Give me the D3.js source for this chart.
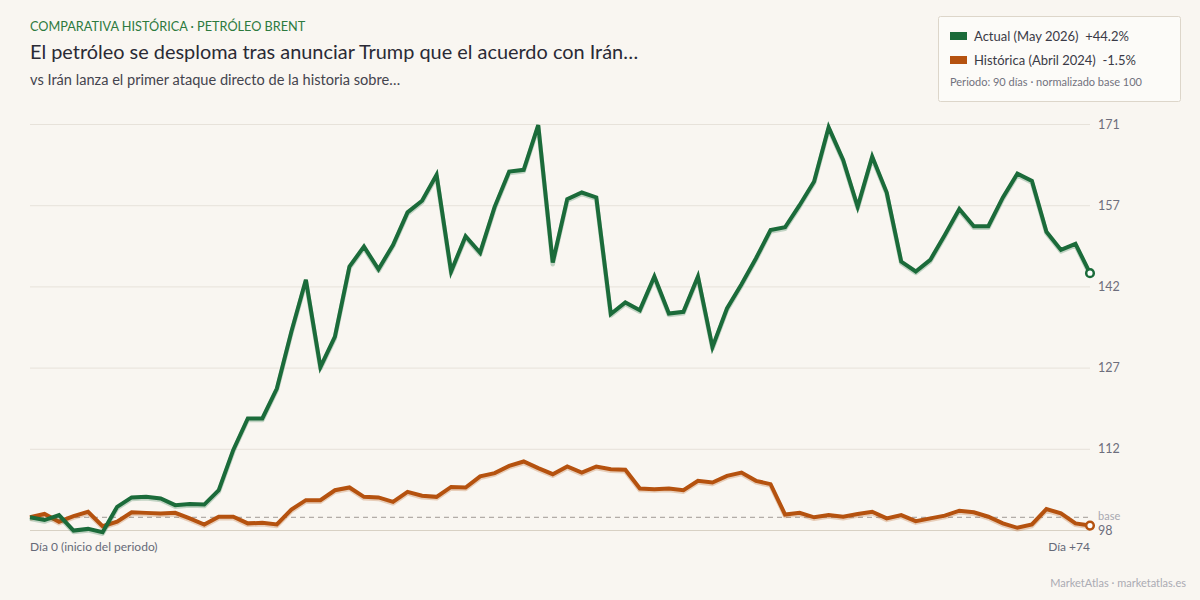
<!DOCTYPE html>
<html>
<head>
<meta charset="utf-8">
<script src="https://cdn.jsdelivr.net/npm/d3@7"></script>
<style>
  html, body { margin: 0; padding: 0; background: #f9f6f1; }
  svg { display: block; font-family: Lato, "Open Sans", sans-serif; }
</style>
</head>
<body>
<div id="chart"></div>
<script>
// brent comparison — current run vs historical, base 100

const days = d3.range(0, 74);

const actualValues = [
  100.0, 99.5, 100.4, 97.6, 97.9, 97.3, 101.9, 103.6, 103.7, 103.4,
  102.2, 102.4, 102.3, 104.9, 112.2, 117.9, 117.9, 123.3, 133.6, 143.0,
  127.2, 132.7, 145.4, 149.0, 144.9, 149.3, 155.2, 157.3, 162.0, 144.5,
  150.9, 147.9, 156.2, 162.6, 162.9, 171.0, 146.1, 157.6, 158.8, 157.9,
  136.8, 138.9, 137.5, 143.6, 136.9, 137.2, 143.6, 130.8, 137.8, 142.2,
  146.9, 152.0, 152.5, 156.5, 160.8, 170.6, 164.7, 156.2, 165.3, 158.8,
  146.3, 144.5, 146.6, 151.1, 155.8, 152.7, 152.7, 157.9, 162.2, 160.9,
  151.7, 148.4, 149.5, 144.2
];

const historicValues = [
  100.0, 100.6, 99.2, 100.2, 101.0, 98.4, 99.2, 100.9, 100.8, 100.7,
  100.8, 99.8, 98.7, 100.1, 100.1, 98.9, 99.0, 98.7, 101.4, 103.1,
  103.1, 104.9, 105.4, 103.7, 103.6, 102.8, 104.6, 103.9, 103.7, 105.5,
  105.4, 107.4, 108.0, 109.3, 110.1, 108.9, 107.8, 109.2, 108.1, 109.2,
  108.7, 108.6, 105.2, 105.1, 105.2, 104.9, 106.6, 106.3, 107.5, 108.1,
  106.6, 106.0, 100.5, 100.8, 100.0, 100.4, 100.1, 100.6, 101.0, 99.8,
  100.4, 99.3, 99.8, 100.3, 101.2, 100.9, 100.1, 98.9, 98.1, 98.7,
  101.5, 100.7, 98.9, 98.5
];

const seriesNames = ["Actual (May 2026)", "Histórica (Abril 2024)"];
const seriesChanges = ["+44.2%", "-1.5%"];
const seriesColors = ["#1b6b3a", "#b5520f"];

const yMin = 97.7, yMax = 171.2;
const baseValue = 100;

const W = 1200, H = 600;
const plot = { left: 30, right: 1090, top: 124, bottom: 530 };

const svg = d3.select("#chart").append("svg")
  .attr("width", W)
  .attr("height", H);

svg.append("rect").attr("width", W).attr("height", H).attr("fill", "#f9f6f1");

const x = d3.scaleLinear()
  .domain([0, days.length - 1])
  .range([plot.left, plot.right]);

const y = d3.scaleLinear()
  .domain([yMin, yMax])
  .range([plot.bottom, plot.top]);

// ===== HEADER =====
svg.append("text")
  .attr("x", 30).attr("y", 31)
  .style("font-size", "12.7px")
  .style("fill", "#2d7a3e")
  .text("COMPARATIVA HISTÓRICA · PETRÓLEO BRENT");

svg.append("text")
  .attr("x", 30).attr("y", 59)
  .style("font-size", "19.9px")
  .style("fill", "#2a2a35")
  .text("El petróleo se desploma tras anunciar Trump que el acuerdo con Irán…");

svg.append("text")
  .attr("x", 30).attr("y", 85)
  .style("font-size", "14.6px")
  .style("fill", "#44444e")
  .text("vs Irán lanza el primer ataque directo de la historia sobre…");

// ===== GRID + Y AXIS =====
const tickVals = d3.range(6).map(i => yMin + (yMax - yMin) * i / 5);

const yAxis = svg.append("g")
  .attr("transform", `translate(${plot.right},0)`)
  .call(d3.axisRight(y)
    .tickValues(tickVals)
    .tickSize(-(plot.right - plot.left))
    .tickPadding(8)
    .tickFormat(d => Math.round(d)));

yAxis.select(".domain").remove();
yAxis.selectAll(".tick line")
  .attr("stroke", (d, i) => i === 0 ? "#d8d1c4" : "#e7e2da")
  .attr("stroke-width", 1);
yAxis.selectAll(".tick text")
  .style("font-size", "12.5px")
  .style("font-family", "Lato, sans-serif")
  .attr("fill", "#6e6e7c");

// base 100 dashed line
svg.append("line")
  .attr("x1", plot.left).attr("x2", plot.right)
  .attr("y1", y(baseValue)).attr("y2", y(baseValue))
  .attr("stroke", "#a09a94")
  .attr("stroke-width", 1)
  .attr("stroke-dasharray", "5,4");

svg.append("text")
  .attr("x", plot.right + 8)
  .attr("y", y(baseValue) + 3)
  .style("font-size", "11px")
  .style("fill", "#a8a8b0")
  .text("base");

// ===== X LABELS =====
svg.append("text")
  .attr("x", x(0)).attr("y", 551)
  .style("font-size", "12px")
  .style("fill", "#666a78")
  .text("Día 0 (inicio del periodo)");

svg.append("text")
  .attr("x", x(days.length - 1)).attr("y", 551)
  .attr("text-anchor", "end")
  .style("font-size", "12px")
  .style("fill", "#666a78")
  .text("Día +74");

// ===== LINES =====
const line = d3.line()
  .x((d, i) => x(days[i]))
  .y(d => y(d));

const allSeries = [actualValues, historicValues];

// draw historic first so actual sits on top
[1, 0].forEach(k => {
  svg.append("path")
    .datum(allSeries[k])
    .attr("fill", "none")
    .attr("stroke", seriesColors[k])
    .attr("stroke-opacity", 0.25)
    .attr("stroke-width", 4.5)
    .attr("stroke-linejoin", "round")
    .attr("transform", "translate(0,1.5)")
    .attr("d", line);

  svg.append("path")
    .datum(allSeries[k])
    .attr("fill", "none")
    .attr("stroke", seriesColors[k])
    .attr("stroke-width", 4)
    .attr("stroke-linejoin", "miter")
    .attr("d", line);

  const last = allSeries[k].length - 1;
  svg.append("circle")
    .attr("cx", x(days[last]))
    .attr("cy", y(allSeries[k][last]))
    .attr("r", 3.8)
    .attr("fill", "#ffffff")
    .attr("stroke", seriesColors[k])
    .attr("stroke-width", 2.5);
});

// ===== LEGEND =====
const legend = svg.append("g").attr("transform", "translate(938,16)");

legend.append("rect")
  .attr("x", 0.5).attr("y", 0.5)
  .attr("width", 242).attr("height", 85)
  .attr("fill", "#fcfbf8")
  .attr("stroke", "#ddd6ca")
  .attr("stroke-width", 1)
  .attr("rx", 2);

seriesNames.forEach((name, i) => {
  const g = legend.append("g").attr("transform", `translate(12, ${16 + i * 24})`);
  g.append("rect")
    .attr("x", 0).attr("y", 0)
    .attr("width", 17).attr("height", 8)
    .attr("fill", seriesColors[i]);
  g.append("text")
    .attr("x", 24).attr("y", 8.5)
    .style("font-size", "13px")
    .style("fill", "#3a3a46")
    .text(`${name}  ${seriesChanges[i]}`)
    .attr("xml:space", "preserve");
});

legend.append("text")
  .attr("x", 12).attr("y", 70)
  .style("font-size", "11px")
  .style("fill", "#72727e")
  .text("Periodo: 90 días · normalizado base 100");

// ===== FOOTER =====
svg.append("text")
  .attr("x", 1186).attr("y", 587)
  .attr("text-anchor", "end")
  .style("font-size", "11px")
  .style("fill", "#ababb3")
  .text("MarketAtlas · marketatlas.es");
</script>
</body>
</html>
